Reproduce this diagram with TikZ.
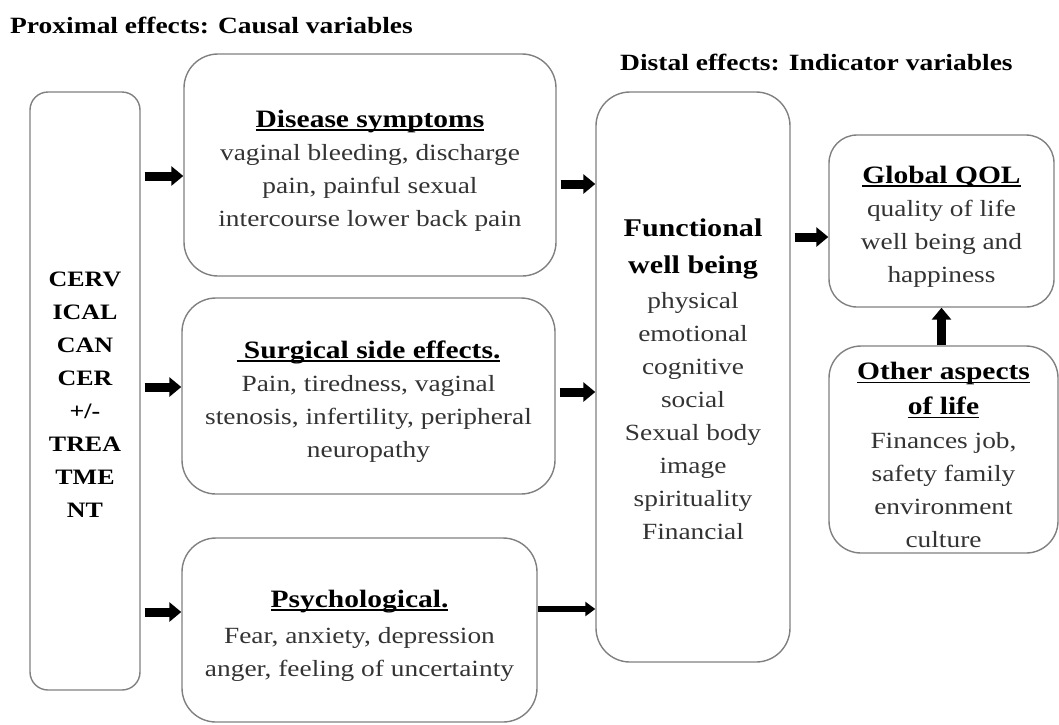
\documentclass[tikz,border=0pt]{standalone}
\usepackage{fontspec}
\setmainfont{Liberation Serif}[FakeStretch=1.18]
\usetikzlibrary{positioning,arrows.meta}
\tikzset{
  fatarrow/.style={-{Triangle[length=12pt,width=19pt]}, line width=9pt, shorten <=4pt},
  slimarrow/.style={-{Triangle[length=10pt,width=14pt]}, line width=6pt},
  qolbox/.style={draw=black!50, line width=1.4pt, rounded corners=34pt, align=center,
    inner sep=2pt, text=black!80, font=\fontsize{23.2}{33}\selectfont},
  headtxt/.style={anchor=west, font=\bfseries\fontsize{23.3}{28}\selectfont}
}
\newcommand{\headline}[1]{{\color{black}\bfseries\fontsize{25}{33}\selectfont
  \setbox0=\hbox{#1}\rlap{\rule[-4pt]{\wd0}{1.6pt}}\box0}}
\newcommand{\boxhead}[1]{\rule{0pt}{28pt}\headline{#1}}

\begin{document}
\begin{tikzpicture}[x=1pt, y=-1pt]
  \useasboundingbox (0,0) rectangle (1059,724);
  % headings
  \node[headtxt, inner sep=0pt] (proxhead) at (10,25) {Proximal effects: Causal variables};
  \node[headtxt, inner sep=0pt] (disthead) at (620,62) {Distal effects: Indicator variables};
  % boxes
  \node[qolbox, rounded corners=18pt, minimum width=110pt, minimum height=598pt,
    text=black, font=\bfseries\fontsize{22}{33}\selectfont] (cc) at (85,391)
    {\rule{0pt}{22pt}CERV\\ICAL\\CAN\\CER\\+/-\\TREA\\TME\\NT};
  \node[qolbox, minimum width=372pt, minimum height=222pt] (ds) at (370,165)
    {\boxhead{Disease symptoms}\\vaginal bleeding, discharge\\pain, painful sexual\\intercourse lower back pain};
  \node[qolbox, minimum width=373pt, minimum height=196pt] (ss) at (368.5,396)
    {\boxhead{\ Surgical side effects.}\\Pain, tiredness, vaginal\\stenosis, infertility, peripheral\\neuropathy};
  \node[qolbox, minimum width=355pt, minimum height=184pt] (ps) at (359.5,630)
    {\boxhead{Psychological.}\\[3pt]Fear, anxiety, depression\\anger, feeling of uncertainty};
  \node[qolbox, minimum width=194pt, minimum height=570pt] (fw) at (693,377)
    {\rule{0pt}{22pt}{\color{black}\bfseries\fontsize{25.5}{33}\selectfont Functional}\\[4pt]
     {\color{black}\bfseries\fontsize{25.5}{33}\selectfont well being}\\[2pt]
     physical\\emotional\\cognitive\\social\\Sexual body\\image\\spirituality\\Financial};
  \node[qolbox, rounded corners=28pt, minimum width=225pt, minimum height=172pt] (gq) at (941.5,221)
    {\boxhead{Global QOL}\\quality of life\\well being and\\happiness};
  \node[qolbox, rounded corners=32pt, minimum width=229pt, minimum height=207pt] (oa) at (943.5,449.5)
    {\boxhead{Other aspects}\\[2pt]\headline{of life}\\[1pt]Finances job,\\safety family\\environment\\culture};
  % arrows
  \draw[fatarrow] (cc.east |- 0,176) -- (ds.west |- 0,176);
  \draw[fatarrow] (cc.east |- 0,387) -- (ss.west |- 0,387);
  \draw[fatarrow] (cc.east |- 0,612) -- (ps.west |- 0,612);
  \draw[fatarrow] (ds.east |- 0,184) -- (fw.west |- 0,184);
  \draw[fatarrow] (ss.east |- 0,392) -- (fw.west |- 0,392);
  \draw[slimarrow] (ps.east |- 0,609) -- (fw.west |- 0,609);
  \draw[fatarrow] (fw.east |- 0,237) -- (gq.west |- 0,237);
  \draw[fatarrow, shorten <=0pt] (gq.south |- oa.north) -- (gq.south);
\end{tikzpicture}
\end{document}
